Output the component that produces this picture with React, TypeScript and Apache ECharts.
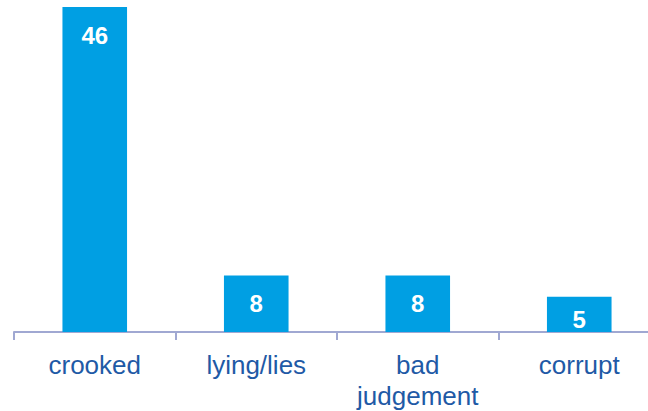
import React, { useEffect, useRef } from "react";
import * as echarts from "echarts";

const categories = ["crooked", "lying/lies", "bad\njudgement", "corrupt"];
const values = [46, 8, 8, 5];
const labelDistances = [16, 16, 16, 11];

export default function App() {
  const ref = useRef<HTMLDivElement>(null);
  useEffect(() => {
    if (!ref.current) return;
    const chart = echarts.init(ref.current, null, { renderer: "svg" });
    chart.setOption({
      animation: false,
      grid: { left: 14, right: 12, top: 7, bottom: 77, containLabel: false },
      xAxis: {
        type: "category",
        data: categories,
        boundaryGap: true,
        axisLine: { show: true, lineStyle: { color: "#A0A8D2", width: 2 } },
        axisTick: { show: true, length: 8, lineStyle: { color: "#A0A8D2", width: 2 } },
        axisLabel: {
          color: "#1F5AA6",
          fontSize: 26,
          lineHeight: 31,
          margin: 17,
          fontFamily: "Liberation Sans, Arial, sans-serif",
          interval: 0,
        },
      },
      yAxis: {
        type: "value",
        min: 0,
        max: 46,
        show: false,
        splitLine: { show: false },
      },
      series: [
        {
          type: "bar",
          barWidth: "40%",
          itemStyle: { color: "#009FE3" },
          data: values.map((v, i) => ({
            value: v,
            label: { distance: labelDistances[i] },
          })),
          label: {
            show: true,
            position: "insideTop",
            color: "#FFFFFF",
            fontWeight: "bold",
            fontSize: 24,
            fontFamily: "Liberation Sans, Arial, sans-serif",
          },
        },
      ],
    });
    return () => chart.dispose();
  }, []);
  return (
    <div
      style={{ position: "absolute", left: 0, top: 0, width: 648, height: 411, overflow: "hidden", background: "#fff" }}
    >
      <div ref={ref} style={{ width: 672, height: 411 }} />
    </div>
  );
}
